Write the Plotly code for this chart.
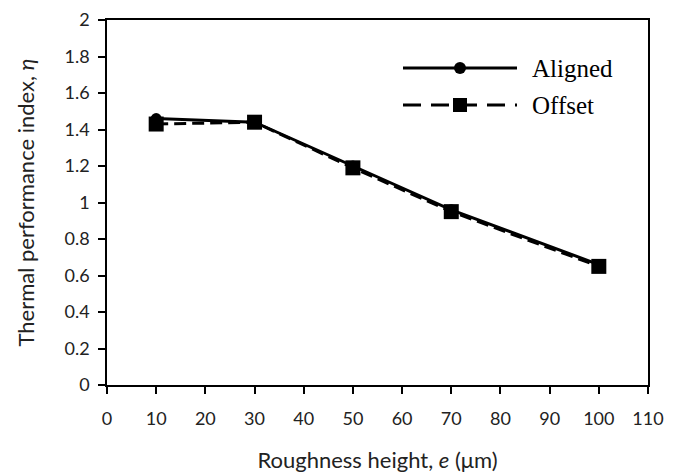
import plotly.graph_objects as go

roughness = [10, 30, 50, 70, 100]
aligned = [1.46, 1.44, 1.20, 0.96, 0.66]
offset = [1.43, 1.44, 1.19, 0.95, 0.65]
x_ticks = list(range(0, 111, 10))
y_ticks = [0, 0.2, 0.4, 0.6, 0.8, 1, 1.2, 1.4, 1.6, 1.8, 2]
y_tick_labels = ["0", "0.2", "0.4", "0.6", "0.8", "1", "1.2", "1.4", "1.6", "1.8", "2"]

# page has an 8px body margin; compensate
OFF = 8
W, H = 681 - OFF, 475 - OFF
L, R, T, B = 107 - OFF, 33, 20 - OFF, 90
pw, ph = W - L - R, H - T - B

def px(x):  # page pixel -> paper
    return (x - OFF - L) / pw

def py(y):
    return (H - B - (y - OFF)) / ph

fig = go.Figure()
fig.add_trace(go.Scatter(x=roughness, y=aligned, mode="lines+markers", name="Aligned",
                         line=dict(color="black", width=3),
                         marker=dict(symbol="circle", size=11, color="black"),
                         showlegend=False))
fig.add_trace(go.Scatter(x=roughness, y=offset, mode="lines+markers", name="Offset",
                         line=dict(color="black", width=3, dash="12px,6px"),
                         marker=dict(symbol="square", size=15, color="black"),
                         showlegend=False))

# custom legend
shapes = []
annotations = []
for name, yy, dash, kind, msize in [("Aligned", 68, "solid", "circle", 6),
                                    ("Offset", 105, "18px,10px", "rect", 7)]:
    shapes.append(dict(type="line", xref="paper", yref="paper",
                       x0=px(403), x1=px(517), y0=py(yy), y1=py(yy),
                       line=dict(color="black", width=3, dash=dash)))
    shapes.append(dict(type=kind, xref="paper", yref="paper",
                       xsizemode="pixel", ysizemode="pixel",
                       xanchor=px(460), yanchor=py(yy),
                       x0=-msize, x1=msize, y0=-msize, y1=msize,
                       fillcolor="black", line=dict(color="black", width=0)))
    annotations.append(dict(text=name, xref="paper", yref="paper",
                            x=px(530), y=py(yy), xanchor="left", yanchor="middle",
                            showarrow=False,
                            font=dict(family="Liberation Serif", size=25, color="black")))

axis_common = dict(showline=True, linecolor="black", linewidth=1.5, mirror=True,
                   ticks="outside", ticklen=7, tickwidth=1.5, tickcolor="black",
                   showgrid=False, zeroline=False, automargin=False,
                   tickfont=dict(family="Lato", size=18, color="#222"))

fig.update_layout(
    width=W, height=H,
    margin=dict(l=L, r=R, t=T, b=B),
    paper_bgcolor="white", plot_bgcolor="white",
    xaxis=dict(range=[0, 110], tickvals=x_ticks, ticklabelstandoff=10,
               title=dict(text="Roughness height, <i>e</i> (μm)", standoff=24,
                          font=dict(family="Lato", size=22, color="#222")),
               **axis_common),
    yaxis=dict(range=[0, 2], tickvals=y_ticks, ticktext=y_tick_labels,
               ticklabelstandoff=5,
               title=dict(text="Thermal performance index, <i>η</i>", standoff=24,
                          font=dict(family="Lato", size=22, color="#222")),
               **axis_common),
    shapes=shapes, annotations=annotations,
)

fig.write_html("out.html")
